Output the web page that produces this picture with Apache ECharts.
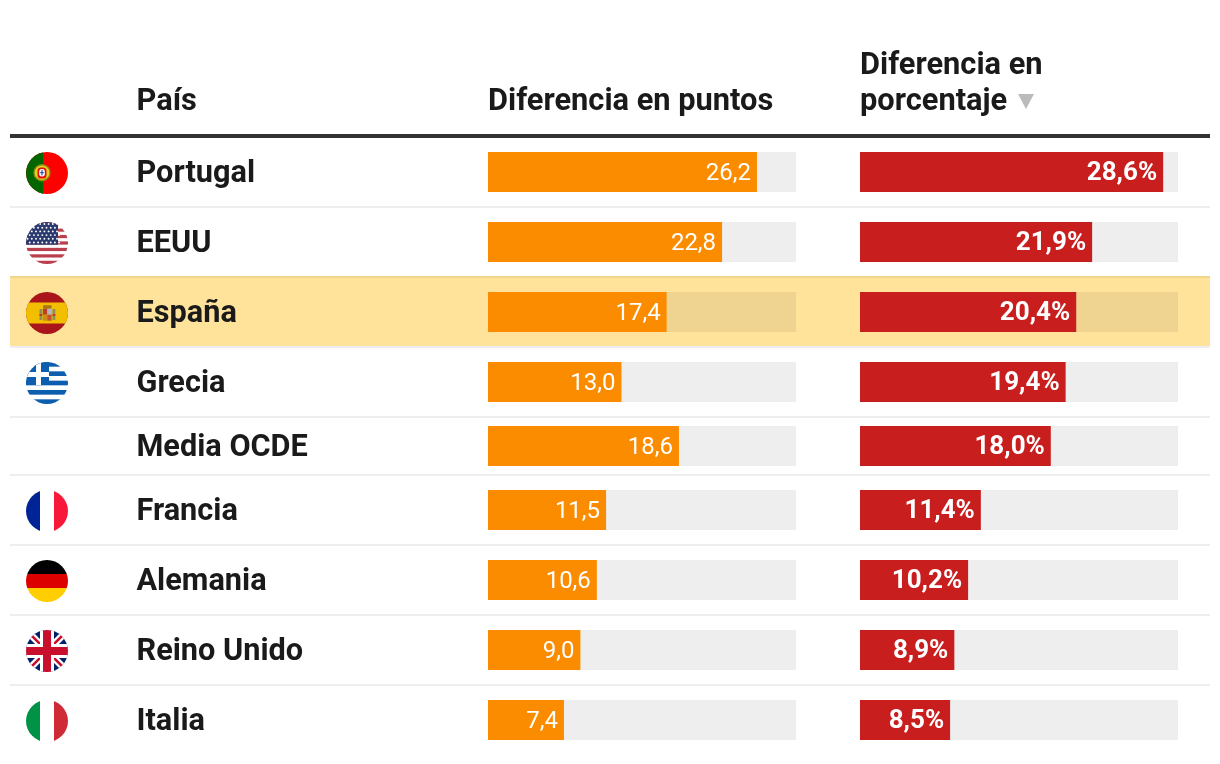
<!DOCTYPE html>
<html><head><meta charset="utf-8">
<style>html,body{margin:0;padding:0;background:#fff}#c{width:1220px;height:764px}</style>
<script src="https://cdn.jsdelivr.net/npm/echarts@6/dist/echarts.min.js"></script>
</head><body><div id="c"></div>
<script>
const paises = ['Portugal','EEUU','España','Grecia','Media OCDE','Francia','Alemania','Reino Unido','Italia'];
const puntos = [26.2,22.8,17.4,13.0,18.6,11.5,10.6,9.0,7.4];
const porcentaje = [28.6,21.9,20.4,19.4,18.0,11.4,10.2,8.9,8.5];
const encabezados = ['País','Diferencia en puntos','Diferencia en','porcentaje'];
const destacado = 'España';

// layout
const F = 'Roboto, sans-serif';
const rowHeights = [68,68,68,68,56,68,68,68,68];
const sepTop = 138, sepH = 2;
const rowTops = []; { let y = sepTop; rowHeights.forEach(h => { rowTops.push(y); y += h + sepH; }); }
const barH = 40;
const col1 = {left:488,width:308}, col2 = {left:860,width:318};

function svg(inner){
  const s = '<svg xmlns="http://www.w3.org/2000/svg" width="42" height="42" viewBox="0 0 42 42"><defs><clipPath id="c"><circle cx="21" cy="21" r="21"/></clipPath></defs><g clip-path="url(#c)">'+inner+'</g></svg>';
  return 'data:image/svg+xml;charset=utf-8,'+encodeURIComponent(s);
}
function usStars(){
  let o='';
  for(let r=0;r<6;r++) for(let c=0;c<8;c++){
    o+='<circle cx="'+(1.6+(r%2?2.1:0)+c*4.2)+'" cy="'+(2+r*3.7)+'" r="0.95" fill="#fff"/>';
  }
  return o;
}
function usStripes(){
  let o='<rect width="42" height="42" fill="#fff"/>';
  for(let i=0;i<7;i++) o+='<rect y="'+(i*6.46)+'" width="42" height="3.23" fill="#b9404c"/>';
  return o;
}
function grStripes(){
  let o='<rect width="42" height="42" fill="#fff"/>';
  for(let i=0;i<5;i++) o+='<rect y="'+(i*9.33)+'" width="42" height="4.67" fill="#0d5eaf"/>';
  return o;
}
const flags = {
  'Portugal': svg('<rect width="42" height="42" fill="#f00"/><rect width="17" height="42" fill="#060"/><circle cx="16" cy="20.7" r="8" fill="#e6d21e" stroke="#8f8a10" stroke-width="1.4"/><rect x="11.5" y="15.5" width="9" height="11" rx="3.5" fill="#e01010"/><rect x="13.2" y="17" width="5.6" height="7.6" rx="2.4" fill="#fff"/><rect x="15.4" y="18" width="1.2" height="5.4" fill="#2a4fb0"/><rect x="14.2" y="20" width="3.6" height="1.2" fill="#2a4fb0"/>'),
  'EEUU': svg(usStripes()+'<rect width="32" height="22.7" fill="#2b3a6e"/>'+usStars()),
  'España': svg('<rect width="42" height="42" fill="#aa151b"/><rect y="10.5" width="42" height="21" fill="#f1bf00"/><rect x="13.5" y="17" width="2.8" height="11" fill="#8a8f6a"/><rect x="26.5" y="17" width="2.8" height="11" fill="#8a8f6a"/><rect x="13.5" y="22" width="2.8" height="2" fill="#c23a20"/><rect x="26.5" y="22" width="2.8" height="2" fill="#c23a20"/><rect x="17" y="13.3" width="8.6" height="3.4" rx="1.2" fill="#a8741a"/><rect x="17" y="16.7" width="4.3" height="6" fill="#b5402a"/><rect x="21.3" y="16.7" width="4.3" height="6" fill="#b4b4bc"/><rect x="17" y="22.7" width="4.3" height="6" fill="#d08a18"/><rect x="21.3" y="22.7" width="4.3" height="6" fill="#c2552a"/>'),
  'Grecia': svg(grStripes()+'<rect width="23" height="23" fill="#0d5eaf"/><rect x="10" width="5" height="23" fill="#fff"/><rect y="10" width="23" height="5" fill="#fff"/>'),
  'Francia': svg('<rect width="14" height="42" fill="#002395"/><rect x="14" width="14" height="42" fill="#fff"/><rect x="28" width="14" height="42" fill="#f8193a"/>'),
  'Alemania': svg('<rect width="42" height="14" fill="#000"/><rect y="14" width="42" height="14" fill="#d00"/><rect y="28" width="42" height="14" fill="#ffce00"/>'),
  'Reino Unido': svg('<rect width="42" height="42" fill="#012169"/><path d="M0 0L42 42M42 0L0 42" stroke="#fff" stroke-width="7"/><path d="M0 0L42 42M42 0L0 42" stroke="#c8102e" stroke-width="2.6"/><rect x="14" width="14" height="42" fill="#fff"/><rect y="14" width="42" height="14" fill="#fff"/><rect x="17" width="8" height="42" fill="#c8102e"/><rect y="17" width="42" height="8" fill="#c8102e"/>'),
  'Italia': svg('<rect width="14" height="42" fill="#009246"/><rect x="14" width="14" height="42" fill="#fff"/><rect x="28" width="14" height="42" fill="#ce2b37"/>')
};

const grid=[], xAxis=[], yAxis=[], series=[];
function addCell(col, rowIdx, val, color, isPct, hasLabel){
  const i = grid.length;
  grid.push({left:col.left, width:col.width, top:rowTops[rowIdx]+(rowHeights[rowIdx]-barH)/2, height:barH});
  xAxis.push({type:'value',gridIndex:i,min:0,max:30,show:false});
  yAxis.push({type:'category',gridIndex:i,data:[paises[rowIdx]],z:5,
    axisLine:{show:false},axisTick:{show:false},splitLine:{show:false},
    axisLabel:{show:hasLabel,align:'left',margin:351.5,
      formatter:v=>'{n|'+v+'}',
      rich:{n:{color:'#1a1a1a',fontFamily:F,fontWeight:700,fontSize:30.7,padding:[5,0,0,0]}}}});
  const hl = paises[rowIdx]===destacado;
  series.push({type:'bar',xAxisIndex:i,yAxisIndex:i,data:[val],barWidth:barH,silent:true,
    showBackground:true,backgroundStyle:{color:hl?'#EED490':'#EEEEEE'},
    itemStyle:{color:color},
    label:{show:true,position:'insideRight',distance:6,offset:[0,1.5],color:'#fff',fontFamily:F,
      fontWeight:isPct?700:400,fontSize:isPct?26:24,
      formatter:p=>p.value.toFixed(1).replace('.',',')+(isPct?'%':'')}
  });
}
paises.forEach((p,r)=>{
  addCell(col1,r,puntos[r],'#FB8C00',false,true);
  addCell(col2,r,porcentaje[r],'#C81E1E',true,false);
});

const g=[];
const hi=paises.indexOf(destacado);
g.push({type:'rect',z:-1,shape:{x:10,y:rowTops[hi],width:1200,height:rowHeights[hi]},style:{fill:'#FFE39B'}});
rowTops.forEach((t,r)=>{
  if(r<rowTops.length-1){
    const col = (r===hi-1)?'#F0D68A':'#EEEEEE';
    g.push({type:'rect',z:-1,shape:{x:10,y:t+rowHeights[r],width:1200,height:sepH},style:{fill:col}});
  }
  if(flags[paises[r]]){
    g.push({type:'image',z:1,style:{image:flags[paises[r]],x:26,y:t+14,width:42,height:42}});
  }
});
g.push({type:'rect',z:1,shape:{x:10,y:134,width:1200,height:4},style:{fill:'#333333'}});
const hdr=(text,x,y)=>({type:'text',z:1,style:{text,x,y,fill:'#1a1a1a',font:'700 30.8px '+F,textAlign:'left',textVerticalAlign:'middle'}});
g.push(hdr(encabezados[0],136.5,102),hdr(encabezados[1],488,102),hdr(encabezados[2],860,66),hdr(encabezados[3],860,102));
g.push({type:'polygon',z:1,shape:{points:[[1018,94],[1034,94],[1026,109]]},style:{fill:'#BBBBBB'}});

const chart=echarts.init(document.getElementById('c'),null,{renderer:'canvas'});
chart.setOption({animation:false,backgroundColor:'#fff',grid,xAxis,yAxis,series,graphic:{elements:g}});
</script></body></html>
